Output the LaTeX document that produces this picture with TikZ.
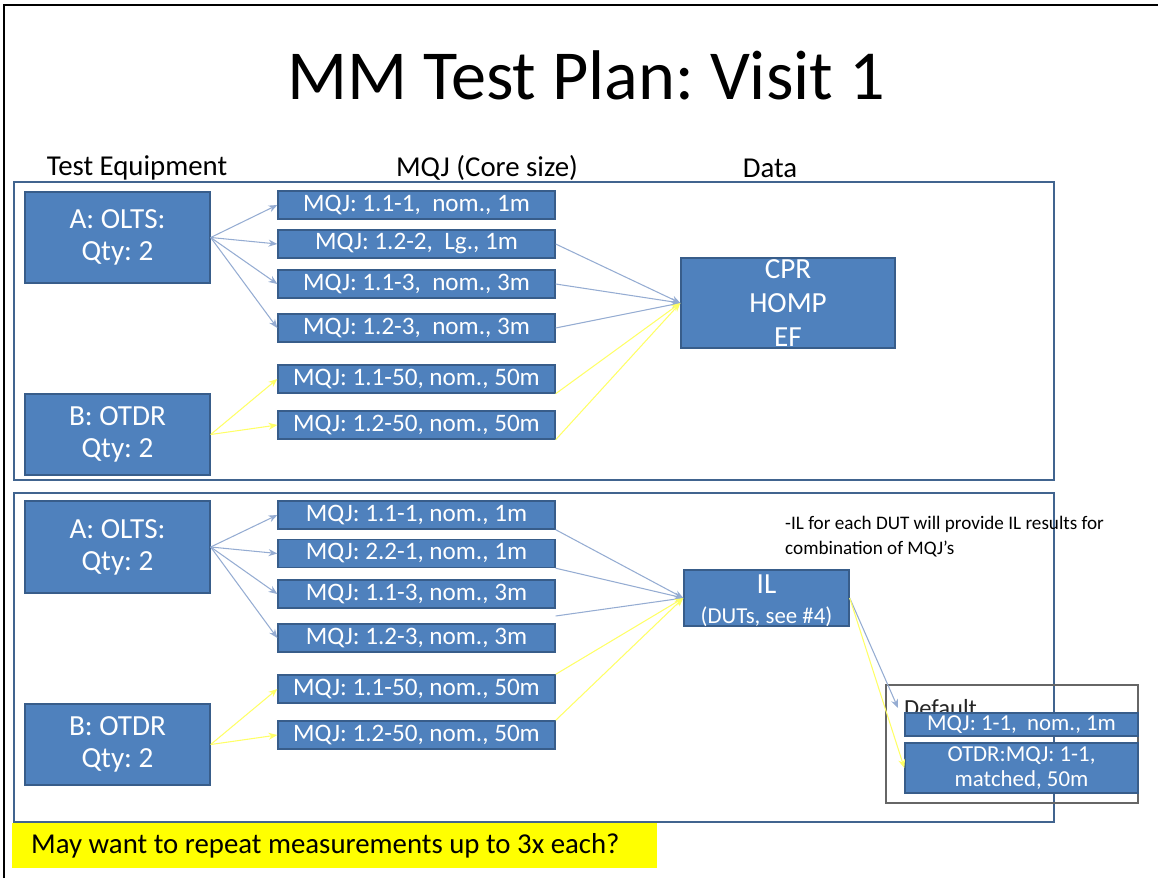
\documentclass[tikz,border=0pt]{standalone}
\usepackage{fontspec}
\setmainfont{Carlito}
\frenchspacing
\usetikzlibrary{positioning, arrows.meta, calc}
\definecolor{azulcaja}{HTML}{4F81BD}
\definecolor{borde}{HTML}{385D8A}
\definecolor{marco}{HTML}{41648F}
\definecolor{flecha}{HTML}{95ACD2}
\definecolor{amarilla}{HTML}{FFFF66}
\definecolor{nota}{HTML}{FFFF00}
\tikzset{
  caja/.style={draw=borde, fill=azulcaja, line width=0.8pt, text=white, inner sep=0pt, align=center},
  mqj/.style={caja, minimum width=5.54cm, minimum height=0.56cm, font=\fontsize{14.3}{15}\selectfont},
  equipo/.style={caja, minimum width=3.7cm, font=\fontsize{16.6}{18.2}\selectfont},
  azul/.style={draw=flecha, line width=0.6pt, -{Stealth[length=5pt, width=4pt]}},
  amar/.style={draw=amarilla, line width=0.6pt, -{Stealth[length=5pt, width=4pt]}},
}

\begin{document}
\begin{tikzpicture}[x=0.02cm, y=-0.02cm]
  \useasboundingbox (0,0) rectangle (1158,878);
  \draw[line width=1.2pt] (4,878) -- (4,5) -- (1158,5);
  \node[font=\fontsize{40}{44}\selectfont] (titulo) at (586,75) {MM Test Plan: Visit 1};
  \foreach \x/\t [count=\i] in {137/Test Equipment, 487/MQJ (Core size), 770/Data}
    \node[font=\fontsize{16.4}{18}\selectfont] (cab\i) at (\x,168) {\t};

  % paneles
  \draw[marco, line width=1.4pt] (14,182) rectangle (1054,480);
  \draw[marco, line width=1.4pt] (14,493) rectangle (1054,822);

  % panel superior
  \node[equipo, minimum height=1.82cm] (olts) at (117.5,237.5) {A: OLTS:\\Qty: 2};
  \node[equipo, minimum height=1.62cm] (otdr) at (117.5,434.5) {B: OTDR\\Qty: 2};
  \foreach \y/\t [count=\i] in {205/{MQJ: 1.1-1,~ nom., 1m}, 244/{MQJ: 1.2-2,~ Lg., 1m},
                                284/{MQJ: 1.1-3,~ nom., 3m}, 328/{MQJ: 1.2-3,~ nom., 3m},
                                379/{MQJ: 1.1-50, nom., 50m}, 425/{MQJ: 1.2-50, nom., 50m}}
    \node[mqj] (m\i) at (416.5,\y) {\t};
  \node[caja, minimum width=4.28cm, minimum height=1.8cm] (datos) at (788,303) {};
  \node[text=white, align=center, font=\fontsize{16.6}{19.3}\selectfont] (datostxt) at (datos) {CPR\\HOMP\\EF};
  \foreach \i in {1,...,4}
    \draw[azul] (olts.east) -- (m\i.west);
  \foreach \i in {5,6}
    \draw[amar] (otdr.east) -- (m\i.west);
  \foreach \i in {2,3,4}
    \draw[azul] (m\i.east) -- (datos.west);
  \foreach \i in {5,6}
    \draw[amar] (m\i.south east) -- (datos.west);

  % panel inferior
  \node[equipo, minimum height=1.84cm] (olts2) at (117.5,547) {A: OLTS:\\Qty: 2};
  \node[equipo, minimum height=1.62cm] (otdr2) at (117.5,744.5) {B: OTDR\\Qty: 2};
  \foreach \y/\t [count=\i] in {515/{MQJ: 1.1-1, nom., 1m}, 553.5/{MQJ: 2.2-1, nom., 1m},
                                594/{MQJ: 1.1-3, nom., 3m}, 638/{MQJ: 1.2-3, nom., 3m},
                                689/{MQJ: 1.1-50, nom., 50m}, 735/{MQJ: 1.2-50, nom., 50m}}
    \node[mqj] (n\i) at (416.5,\y) {\t};
  \node[caja, minimum width=3.3cm, minimum height=1.12cm] (il) at (766.5,598) {};
  \node[text=white, align=center, font=\fontsize{16.6}{17}\selectfont] (iltxt) at ($(il)+(0,3)$)
    {IL\\{\fontsize{13}{15}\selectfont(DUTs, see \#4)}};
  \node[anchor=north west, align=left, font=\fontsize{10.9}{14}\selectfont] (notail) at (779,510)
    {-IL for each DUT will provide IL results for\\combination of MQJ’s};
  \foreach \i in {1,...,4}
    \draw[azul] (olts2.east) -- (n\i.west);
  \foreach \i in {5,6}
    \draw[amar] (otdr2.east) -- (n\i.west);
  \draw[azul] (n1.south east) -- (il.west);
  \draw[azul] (n2.south east) -- (il.west);
  \draw[azul] ($(n3.south east)!0.5!(n4.north east)$) -- (il.west);
  \foreach \i in {5,6}
    \draw[amar] (n\i.north east) -- (il.west);

  % cuadro por defecto
  \draw[black!60, line width=0.8pt] (886,685) rectangle (1138,803);
  \node[anchor=west, font=\fontsize{14}{15}\selectfont, text=black!85] (deflbl) at (898,708) {Default};
  \node[caja, minimum width=4.66cm, minimum height=0.46cm, font=\fontsize{13}{14}\selectfont] (d1) at (1021.5,724.5) {MQJ: 1-1,~ nom., 1m};
  \node[caja, minimum width=4.66cm, minimum height=1.0cm, font=\fontsize{13}{14.2}\selectfont] (d2) at (1021.5,768) {OTDR:MQJ: 1-1,\\matched, 50m};
  \draw[azul] (il.east) -- (deflbl.west);
  \draw[amar] (il.east) -- (d2.west);

  % nota
  \node[fill=nota, anchor=north west, minimum width=12.9cm, minimum height=0.9cm, inner sep=0pt] (pregunta) at (12,823) {};
  \node[anchor=west, font=\fontsize{16.4}{18}\selectfont] (preguntatxt) at (25,846) {May want to repeat measurements up to 3x each?};
\end{tikzpicture}
\end{document}
